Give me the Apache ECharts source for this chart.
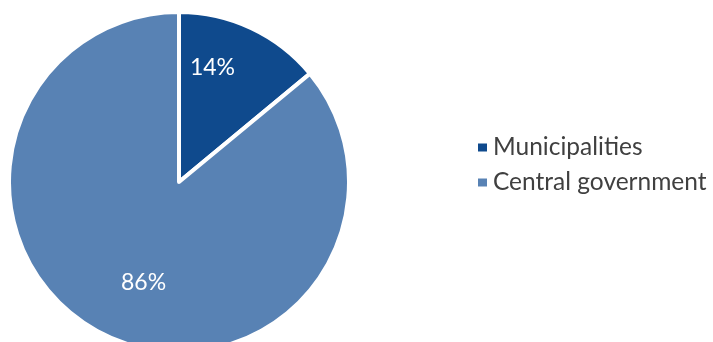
<!DOCTYPE html>
<html>
<head>
<meta charset="utf-8">
<script src="https://cdn.jsdelivr.net/npm/echarts@6/dist/echarts.min.js"></script>
<style>
  html, body { margin: 0; padding: 0; background: #ffffff; }
  #chart { width: 713px; height: 342px; }
</style>
</head>
<body>
<div id="chart"></div>
<script>
// Share of spending by level of government
const categories = ['Municipalities', 'Central government'];
const shares = [14, 86];
const sliceColors = ['#0F4A8D', '#5882B4'];

const chart = echarts.init(document.getElementById('chart'), null, { renderer: 'canvas' });

const fontFamily = 'Lato, "Open Sans", sans-serif';

chart.setOption({
  animation: false,
  color: sliceColors,
  legend: {
    orient: 'vertical',
    left: 471,
    top: 130,
    itemWidth: 11,
    itemHeight: 10,
    itemGap: 10,
    icon: 'rect',
    data: categories,
    textStyle: {
      fontFamily: fontFamily,
      fontSize: 24.5,
      lineHeight: 24,
      color: '#404040'
    }
  },
  series: [{
    type: 'pie',
    center: [179, 182],
    radius: [0, 170],
    startAngle: 90,
    clockwise: true,
    silent: true,
    itemStyle: { borderColor: '#ffffff', borderWidth: 4 },
    label: {
      show: true,
      position: 'inside',
      formatter: '{c}%',
      color: '#ffffff',
      fontFamily: fontFamily,
      fontSize: 23
    },
    labelLine: { show: false },
    labelLayout: function (params) {
      // nudge the inside labels outward along the slice
      return params.dataIndex === 0 ? { dx: -4, dy: -35 } : { dx: 2, dy: 21 };
    },
    data: categories.map((name, i) => ({ name: name, value: shares[i] }))
  }]
});
</script>
</body>
</html>
